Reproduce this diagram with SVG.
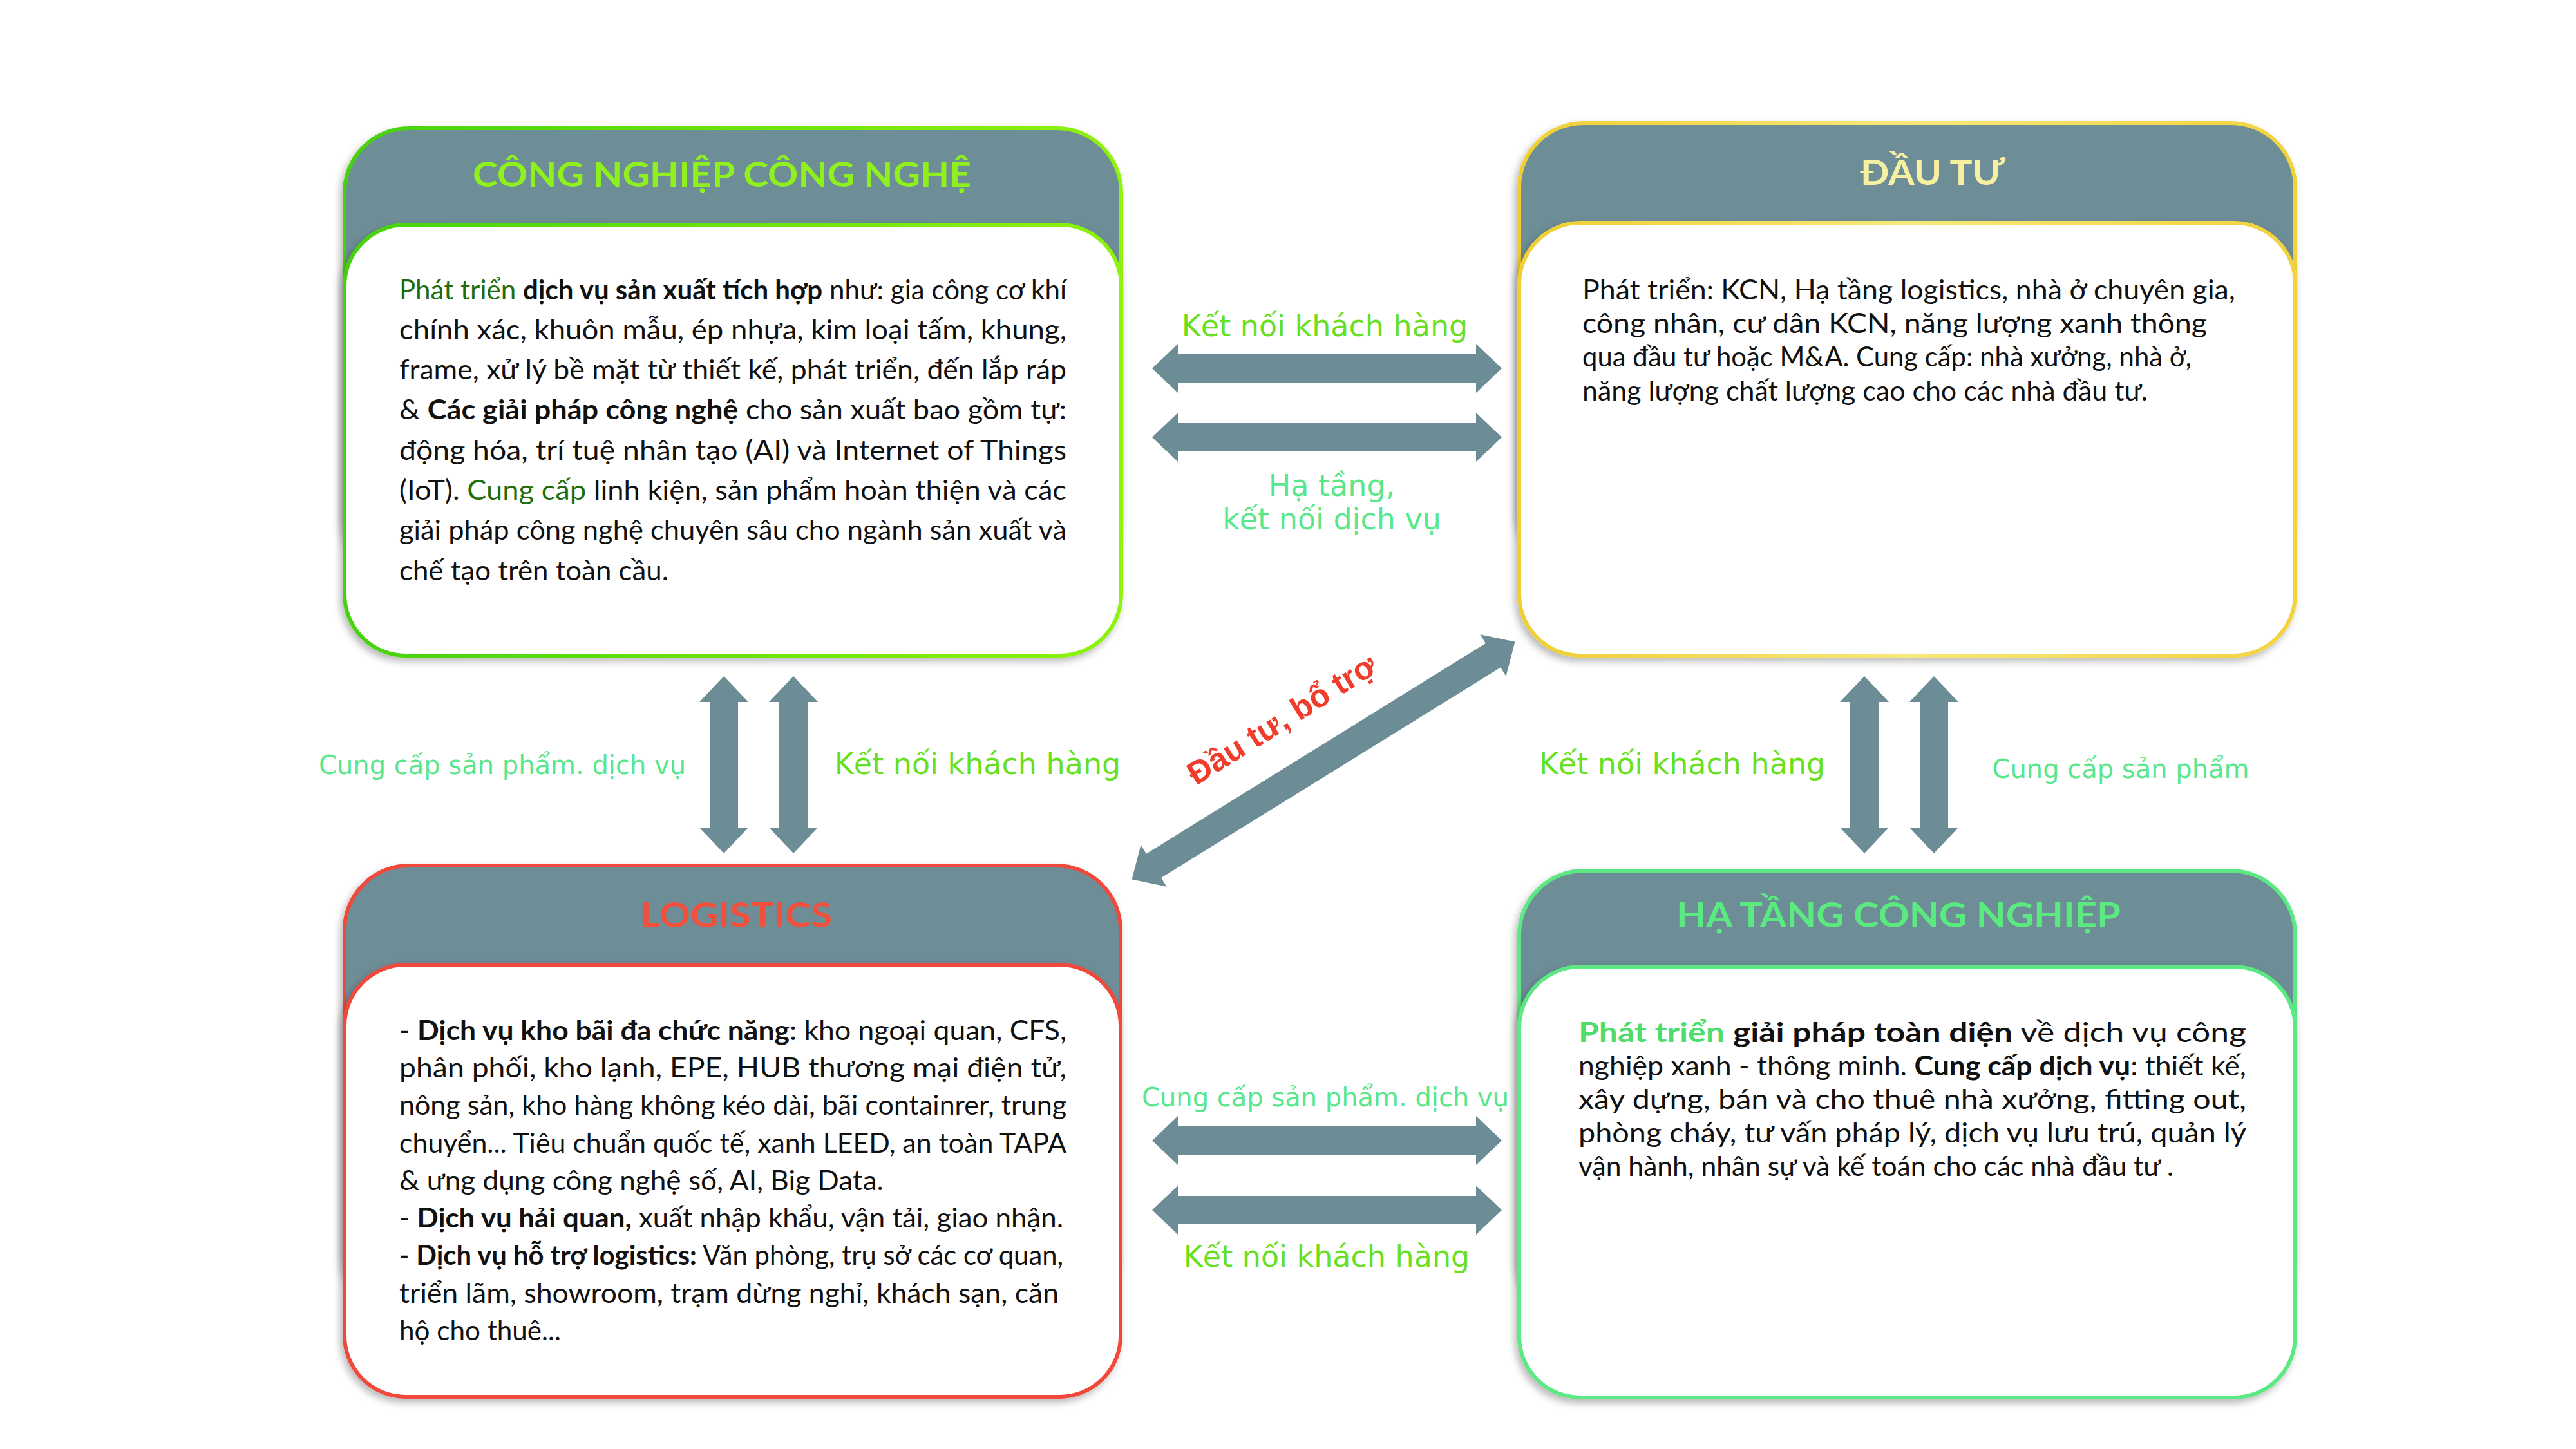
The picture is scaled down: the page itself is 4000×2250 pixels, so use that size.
<svg xmlns="http://www.w3.org/2000/svg" width="4000" height="2250" viewBox="0 0 4000 2250">
<defs>
<linearGradient id="gTL" x1="0" y1="0" x2="1" y2="0"><stop offset="0" stop-color="#45D20C"/><stop offset="1" stop-color="#90F20C"/></linearGradient>
<linearGradient id="gTR" x1="0" y1="0" x2="1" y2="0"><stop offset="0" stop-color="#F0CE32"/><stop offset="0.5" stop-color="#F8E87A"/><stop offset="1" stop-color="#F2D23C"/></linearGradient>
<filter id="sh" x="-5%" y="-5%" width="110%" height="115%"><feDropShadow dx="-4" dy="6" stdDeviation="6" flood-color="#000" flood-opacity="0.28"/></filter>
<style>
.hdr{fill:#6D8D97;stroke-width:6}
.body{fill:#fff;stroke-width:6}
.title{font-family:Lato,"Noto Sans",sans-serif;font-size:54px;font-weight:700;text-anchor:middle}
.txt{font-family:Lato,"Noto Sans",sans-serif;font-size:42px;fill:#111}
.b{font-weight:700}
.dg{fill:#1F6E0C}
.lg{fill:#4EDC6C;font-weight:700}
.arrow{fill:#6C8C96}
.lbl{font-family:"DejaVu Sans",sans-serif;text-anchor:middle}
.k{fill:#68E022;font-size:46px}
.m{fill:#58E78A;font-size:46px}
.c{fill:#58E78A;font-size:40px}
.red{font-family:"Liberation Sans",Arial,sans-serif;font-weight:700;font-size:50px;fill:#F03C2A;text-anchor:middle}
</style>
</defs>
<rect width="4000" height="2250" fill="#fff"/>

<g id="cong-nghiep-cong-nghe">
<rect class="hdr" x="535" y="199" width="1206" height="700" rx="100" stroke="url(#gTL)" filter="url(#sh)"/>
<rect class="body" x="535" y="349" width="1206" height="669" rx="95" stroke="url(#gTL)" filter="url(#sh)"/>
<text class="title" x="1121" y="290" fill="#8EF01C" textLength="774" lengthAdjust="spacingAndGlyphs">CÔNG NGHIỆP CÔNG NGHỆ</text>
<text class="txt" x="620" y="465" textLength="1036" lengthAdjust="spacingAndGlyphs"><tspan class="dg">Phát triển</tspan> <tspan class="b">dịch vụ sản xuất tích hợp</tspan> như: gia công cơ khí</text>
<text class="txt" x="620" y="527" textLength="1036" lengthAdjust="spacingAndGlyphs">chính xác, khuôn mẫu, ép nhựa, kim loại tấm, khung,</text>
<text class="txt" x="620" y="589" textLength="1036" lengthAdjust="spacingAndGlyphs">frame, xử lý bề mặt từ thiết kế, phát triển, đến lắp ráp</text>
<text class="txt" x="620" y="651" textLength="1036" lengthAdjust="spacingAndGlyphs">&amp; <tspan class="b">Các giải pháp công nghệ</tspan> cho sản xuất bao gồm tự:</text>
<text class="txt" x="620" y="714" textLength="1036" lengthAdjust="spacingAndGlyphs">động hóa, trí tuệ nhân tạo (AI) và Internet of Things</text>
<text class="txt" x="620" y="776" textLength="1036" lengthAdjust="spacingAndGlyphs">(IoT). <tspan class="dg">Cung cấp</tspan> linh kiện, sản phẩm hoàn thiện và các</text>
<text class="txt" x="620" y="838" textLength="1036" lengthAdjust="spacingAndGlyphs">giải pháp công nghệ chuyên sâu cho ngành sản xuất và</text>
<text class="txt" x="620" y="901" textLength="418" lengthAdjust="spacingAndGlyphs">chế tạo trên toàn cầu.</text>
</g>

<g id="dau-tu">
<rect class="hdr" x="2359" y="191" width="1205" height="700" rx="100" stroke="url(#gTR)" filter="url(#sh)"/>
<rect class="body" x="2359" y="346" width="1205" height="672" rx="95" stroke="url(#gTR)" filter="url(#sh)"/>
<text class="title" x="3001" y="287" fill="#F6F0A0" textLength="225" lengthAdjust="spacingAndGlyphs">ĐẦU TƯ</text>
<text class="txt" x="2457" y="465" textLength="1014" lengthAdjust="spacingAndGlyphs">Phát triển: KCN, Hạ tầng logistics, nhà ở chuyên gia,</text>
<text class="txt" x="2457" y="517" textLength="970" lengthAdjust="spacingAndGlyphs">công nhân, cư dân KCN, năng lượng xanh thông</text>
<text class="txt" x="2457" y="569" textLength="946" lengthAdjust="spacingAndGlyphs">qua đầu tư hoặc M&amp;A. Cung cấp: nhà xưởng, nhà ở,</text>
<text class="txt" x="2457" y="622" textLength="878" lengthAdjust="spacingAndGlyphs">năng lượng chất lượng cao cho các nhà đầu tư.</text>
</g>

<g id="logistics">
<rect class="hdr" x="535" y="1344" width="1205" height="700" rx="100" stroke="#F04A3A" filter="url(#sh)"/>
<rect class="body" x="535" y="1498" width="1205" height="671" rx="95" stroke="#F04A3A" filter="url(#sh)"/>
<text class="title" x="1143" y="1440" fill="#F2503C" textLength="298" lengthAdjust="spacingAndGlyphs">LOGISTICS</text>
<text class="txt" x="620" y="1615" textLength="1036" lengthAdjust="spacingAndGlyphs">- <tspan class="b">Dịch vụ kho bãi đa chức năng</tspan>: kho ngoại quan, CFS,</text>
<text class="txt" x="620" y="1673" textLength="1036" lengthAdjust="spacingAndGlyphs">phân phối, kho lạnh, EPE, HUB thương mại điện tử,</text>
<text class="txt" x="620" y="1731" textLength="1036" lengthAdjust="spacingAndGlyphs">nông sản, kho hàng không kéo dài, bãi containrer, trung</text>
<text class="txt" x="620" y="1790" textLength="1036" lengthAdjust="spacingAndGlyphs">chuyển... Tiêu chuẩn quốc tế, xanh LEED, an toàn TAPA</text>
<text class="txt" x="620" y="1848" textLength="752" lengthAdjust="spacingAndGlyphs">&amp; ưng dụng công nghệ số, AI, Big Data.</text>
<text class="txt" x="620" y="1906" textLength="1031" lengthAdjust="spacingAndGlyphs">- <tspan class="b">Dịch vụ hải quan,</tspan> xuất nhập khẩu, vận tải, giao nhận.</text>
<text class="txt" x="620" y="1964" textLength="1031" lengthAdjust="spacingAndGlyphs">- <tspan class="b">Dịch vụ hỗ trợ logistics:</tspan> Văn phòng, trụ sở các cơ quan,</text>
<text class="txt" x="620" y="2023" textLength="1024" lengthAdjust="spacingAndGlyphs">triển lãm, showroom, trạm dừng nghỉ, khách sạn, căn</text>
<text class="txt" x="620" y="2081" textLength="251" lengthAdjust="spacingAndGlyphs">hộ cho thuê...</text>
</g>

<g id="ha-tang-cong-nghiep">
<rect class="hdr" x="2359" y="1352" width="1205" height="700" rx="100" stroke="#5BE882" filter="url(#sh)"/>
<rect class="body" x="2359" y="1501" width="1205" height="669" rx="95" stroke="#5BE882" filter="url(#sh)"/>
<text class="title" x="2948" y="1440" fill="#5BEA80" textLength="690" lengthAdjust="spacingAndGlyphs">HẠ TẦNG CÔNG NGHIỆP</text>
<text class="txt" x="2451" y="1618" textLength="1037" lengthAdjust="spacingAndGlyphs"><tspan class="lg">Phát triển</tspan> <tspan class="b">giải pháp toàn diện</tspan> về dịch vụ công</text>
<text class="txt" x="2451" y="1670" textLength="1037" lengthAdjust="spacingAndGlyphs">nghiệp xanh - thông minh. <tspan class="b">Cung cấp dịch vụ</tspan>: thiết kế,</text>
<text class="txt" x="2451" y="1722" textLength="1037" lengthAdjust="spacingAndGlyphs">xây dựng, bán và cho thuê nhà xưởng, fitting out,</text>
<text class="txt" x="2451" y="1774" textLength="1037" lengthAdjust="spacingAndGlyphs">phòng cháy, tư vấn pháp lý, dịch vụ lưu trú, quản lý</text>
<text class="txt" x="2451" y="1826" textLength="924" lengthAdjust="spacingAndGlyphs">vận hành, nhân sự và kế toán cho các nhà đầu tư .</text>
</g>

<g id="connectors">
<polygon class="arrow" points="1789,572 1829,534 1829,550 2292,550 2292,534 2332,572 2292,610 2292,594 1829,594 1829,610"/>
<polygon class="arrow" points="1789,679 1829,641 1829,657 2292,657 2292,641 2332,679 2292,717 2292,701 1829,701 1829,717"/>
<polygon class="arrow" points="1789,1771 1829,1733 1829,1749 2292,1749 2292,1733 2332,1771 2292,1809 2292,1793 1829,1793 1829,1809"/>
<polygon class="arrow" points="1789,1879 1829,1841 1829,1857 2292,1857 2292,1841 2332,1879 2292,1917 2292,1901 1829,1901 1829,1917"/>
<polygon class="arrow" points="1124,1050 1162,1090 1146,1090 1146,1285 1162,1285 1124,1325 1086,1285 1102,1285 1102,1090 1086,1090"/>
<polygon class="arrow" points="1232,1050 1270,1090 1254,1090 1254,1285 1270,1285 1232,1325 1194,1285 1210,1285 1210,1090 1194,1090"/>
<polygon class="arrow" points="2895,1050 2933,1090 2917,1090 2917,1285 2933,1285 2895,1325 2857,1285 2873,1285 2873,1090 2857,1090"/>
<polygon class="arrow" points="3003,1050 3041,1090 3025,1090 3025,1285 3041,1285 3003,1325 2965,1285 2981,1285 2981,1090 2965,1090"/>
<polygon class="arrow" transform="translate(2055,1181) rotate(-31.8)" points="-350,0 -310,-38 -310,-22 310,-22 310,-38 350,0 310,38 310,22 -310,22 -310,38"/>

<text class="lbl k" x="2057" y="522">Kết nối khách hàng</text>
<text class="lbl m" x="2068" y="770">Hạ tầng,</text>
<text class="lbl m" x="2068" y="822">kết nối dịch vụ</text>
<text class="lbl c" x="2058" y="1718">Cung cấp sản phẩm. dịch vụ</text>
<text class="lbl k" x="2060" y="1967">Kết nối khách hàng</text>
<text class="lbl c" x="780" y="1202">Cung cấp sản phẩm. dịch vụ</text>
<text class="lbl k" x="1518" y="1202">Kết nối khách hàng</text>
<text class="lbl k" x="2612" y="1202">Kết nối khách hàng</text>
<text class="lbl c" x="3293" y="1208">Cung cấp sản phẩm</text>
<text class="red" transform="translate(1990,1116) rotate(-32)" x="0" y="18">Đầu tư, bổ trợ</text>
</g>
</svg>
